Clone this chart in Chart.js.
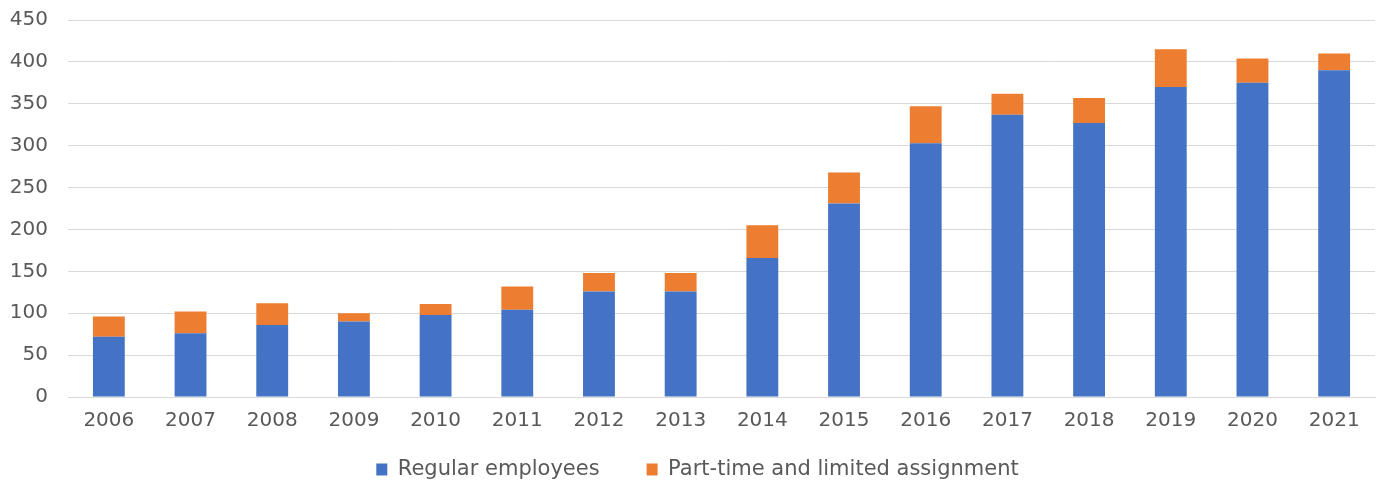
<!DOCTYPE html>
<html>
<head>
<meta charset="utf-8">
<script src="https://cdn.jsdelivr.net/npm/chart.js@4/dist/chart.umd.min.js"></script>
<style>
  html, body { margin: 0; padding: 0; background: #ffffff; }
  #wrap { width: 1380px; height: 482px; position: relative; }
</style>
</head>
<body>
<div id="wrap"><canvas id="chart" width="1380" height="482"></canvas></div>
<script>
// Headcount by year, split by employment type
const years = ['2006','2007','2008','2009','2010','2011','2012','2013','2014','2015','2016','2017','2018','2019','2020','2021'];
const regularEmployees = [72, 76, 86, 90, 98, 104, 126, 126, 166, 231, 303, 337, 327, 370, 375, 390];
const partTimeLimited  = [24, 26, 26, 10, 13, 28, 22, 22, 39, 37, 44, 25, 30, 45, 29, 20];
const yTicks = [0, 50, 100, 150, 200, 250, 300, 350, 400, 450];

const textColor = '#595959';
const gridColor = '#d9d9d9';
const fontFamily = '"DejaVu Sans", sans-serif';

// Keeps the wide gap between legend items while seating the legend
// just under the year labels.
const legendPlacement = {
  id: 'legendPlacement',
  afterLayout(chart) {
    const lg = chart.legend;
    if (!lg) return;
    lg.top = chart.chartArea.bottom + 15;
    lg.bottom = chart.height;
    lg.height = lg.bottom - lg.top;
    lg.left += 20;
    lg.width = lg.right - lg.left;
  }
};

new Chart(document.getElementById('chart'), {
  type: 'bar',
  data: {
    labels: years,
    datasets: [
      {
        label: 'Regular employees',
        data: regularEmployees,
        backgroundColor: '#4472C4',
        barPercentage: 0.39,
        categoryPercentage: 1.0
      },
      {
        label: 'Part-time and limited assignment',
        data: partTimeLimited,
        backgroundColor: '#ED7D31',
        barPercentage: 0.39,
        categoryPercentage: 1.0
      }
    ]
  },
  plugins: [legendPlacement],
  options: {
    responsive: false,
    animation: false,
    layout: { padding: { left: 0, right: 5, top: 20, bottom: 0 } },
    plugins: {
      tooltip: { enabled: false },
      legend: {
        position: 'bottom',
        maxHeight: 49,
        labels: {
          color: textColor,
          font: { family: fontFamily, size: 21 },
          boxWidth: 11,
          boxHeight: 12,
          padding: 47
        }
      }
    },
    scales: {
      x: {
        stacked: true,
        grid: { display: false, drawTicks: false },
        border: { display: true, color: gridColor, width: 1 },
        ticks: {
          color: textColor,
          font: { family: fontFamily, size: 20 },
          padding: 12,
          maxRotation: 0
        },
        afterFit: (scale) => { scale.height = 36; }
      },
      y: {
        stacked: true,
        min: 0,
        max: 450,
        afterBuildTicks: (scale) => { scale.ticks = yTicks.map(v => ({ value: v })); },
        grid: { color: gridColor, drawTicks: false, lineWidth: 1 },
        border: { display: false },
        ticks: {
          color: textColor,
          font: { family: fontFamily, size: 20 },
          padding: 20
        },
        afterFit: (scale) => {
          scale.width = 68;
          scale.paddingTop = 0;
          scale.paddingBottom = 0;
        }
      }
    }
  }
});
</script>
</body>
</html>
